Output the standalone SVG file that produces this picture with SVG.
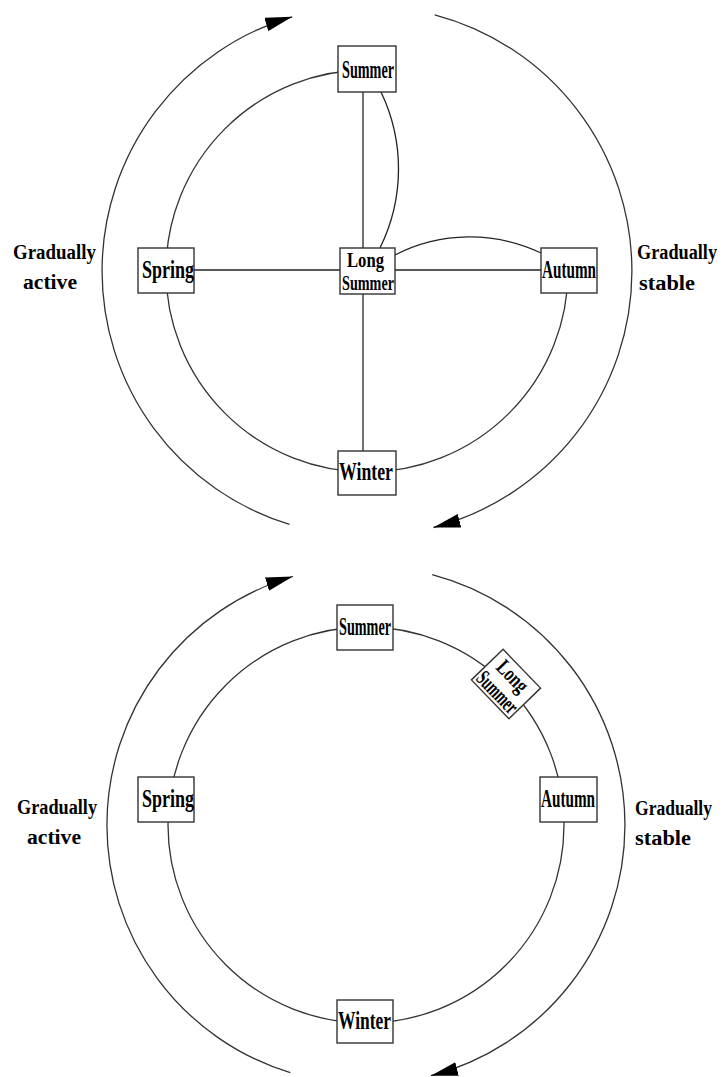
<svg xmlns="http://www.w3.org/2000/svg" width="726" height="1077" viewBox="0 0 726 1077">
  <style>
    .ring { fill: none; stroke: #333; stroke-width: 1.3; }
    .link { fill: none; stroke: #222; stroke-width: 1.3; }
    .flow { fill: none; stroke: #333; stroke-width: 1.3; marker-end: url(#head); }
    .box { fill: #fff; stroke: #333; stroke-width: 1.4; }
    .lbl { font-family: "Liberation Serif", "Times New Roman", serif; font-weight: bold; font-size: 25px; fill: #000; }
    .two { font-size: 22px; }
    .side { font-family: "Liberation Serif", "Times New Roman", serif; font-weight: bold; font-size: 20px; fill: #000; }
  </style>
  <defs>
    <marker id="head" viewBox="0 0 27 14" refX="27" refY="7" markerWidth="27" markerHeight="14" markerUnits="userSpaceOnUse" orient="auto">
      <path d="M0,0 L27,7 L0,14 Z" fill="#000"/>
    </marker>
  </defs>

  <!-- ===== Upper cycle ===== -->
  <g id="upper-connectors">
    <!-- outer flow arcs -->
    <path class="flow" d="M289.5,524.4 A265,265 0 0 1 292.2,16.8"/>
    <path class="flow" d="M434.7,14.8 A265,265 0 0 1 433.4,527.5"/>
    <!-- season ring: Summer -> Spring -> Winter -> Autumn -->
    <path class="ring" d="M367,70 A201,201 0 1 0 568,271"/>
    <!-- Summer -> Long Summer -> Autumn -->
    <path class="link" d="M381,92 A178,178 0 0 1 380,248"/>
    <path class="link" d="M395,255 A165,165 0 0 1 541,253"/>
    <!-- cross -->
    <line class="link" x1="363" y1="92" x2="363" y2="248"/>
    <line class="link" x1="363" y1="294" x2="363" y2="451"/>
    <line class="link" x1="194" y1="270" x2="340" y2="270"/>
    <line class="link" x1="395" y1="270" x2="541" y2="270"/>
  </g>

  <g id="u-summer">
    <rect class="box" x="338" y="46" width="58" height="46"/>
    <text class="lbl" x="342" y="78" textLength="52" lengthAdjust="spacingAndGlyphs">Summer</text>
  </g>
  <g id="u-longsummer">
    <rect class="box" x="340" y="248" width="55" height="46"/>
    <text class="lbl two" x="347" y="267" textLength="37" lengthAdjust="spacingAndGlyphs">Long</text>
    <text class="lbl two" x="342" y="290" textLength="52" lengthAdjust="spacingAndGlyphs">Summer</text>
  </g>
  <g id="u-spring">
    <rect class="box" x="138" y="248" width="56" height="45"/>
    <text class="lbl" x="142" y="278" textLength="52" lengthAdjust="spacingAndGlyphs">Spring</text>
  </g>
  <g id="u-autumn">
    <rect class="box" x="541" y="248" width="56" height="45"/>
    <text class="lbl" x="542" y="278" textLength="54" lengthAdjust="spacingAndGlyphs">Autumn</text>
  </g>
  <g id="u-winter">
    <rect class="box" x="338" y="451" width="58" height="44"/>
    <text class="lbl" x="339" y="480" textLength="54" lengthAdjust="spacingAndGlyphs">Winter</text>
  </g>
  <g id="u-active">
    <text class="side" x="13" y="259" textLength="83" lengthAdjust="spacingAndGlyphs">Gradually</text>
    <text class="side" x="23" y="289" textLength="54" lengthAdjust="spacingAndGlyphs">active</text>
  </g>
  <g id="u-stable">
    <text class="side" x="637" y="259" textLength="80" lengthAdjust="spacingAndGlyphs">Gradually</text>
    <text class="side" x="639" y="290" textLength="56" lengthAdjust="spacingAndGlyphs">stable</text>
  </g>

  <!-- ===== Lower cycle ===== -->
  <g id="lower-connectors">
    <path class="flow" d="M290.3,1072.7 A259,259 0 0 1 292.9,576.5"/>
    <path class="flow" d="M432.2,574.6 A259,259 0 0 1 430.9,1075.7"/>
    <circle class="ring" cx="366" cy="825" r="198"/>
  </g>

  <g id="l-summer">
    <rect class="box" x="337" y="605" width="56" height="45"/>
    <text class="lbl" x="339" y="635" textLength="52" lengthAdjust="spacingAndGlyphs">Summer</text>
  </g>
  <g id="l-longsummer" transform="translate(506,684) rotate(46)">
    <rect class="box" x="-27" y="-22" width="54" height="44"/>
    <text class="lbl two" x="-19" y="-3" textLength="36" lengthAdjust="spacingAndGlyphs">Long</text>
    <text class="lbl two" x="-25" y="19" textLength="50" lengthAdjust="spacingAndGlyphs">Summer</text>
  </g>
  <g id="l-spring">
    <rect class="box" x="138" y="777" width="56" height="45"/>
    <text class="lbl" x="142" y="807" textLength="52" lengthAdjust="spacingAndGlyphs">Spring</text>
  </g>
  <g id="l-autumn">
    <rect class="box" x="540" y="777" width="57" height="45"/>
    <text class="lbl" x="541" y="807" textLength="54" lengthAdjust="spacingAndGlyphs">Autumn</text>
  </g>
  <g id="l-winter">
    <rect class="box" x="337" y="1000" width="56" height="43"/>
    <text class="lbl" x="338" y="1029" textLength="53" lengthAdjust="spacingAndGlyphs">Winter</text>
  </g>
  <g id="l-active">
    <text class="side" x="17" y="814" textLength="80" lengthAdjust="spacingAndGlyphs">Gradually</text>
    <text class="side" x="27" y="844" textLength="54" lengthAdjust="spacingAndGlyphs">active</text>
  </g>
  <g id="l-stable">
    <text class="side" x="635" y="815" textLength="77" lengthAdjust="spacingAndGlyphs">Gradually</text>
    <text class="side" x="635" y="845" textLength="56" lengthAdjust="spacingAndGlyphs">stable</text>
  </g>
</svg>
